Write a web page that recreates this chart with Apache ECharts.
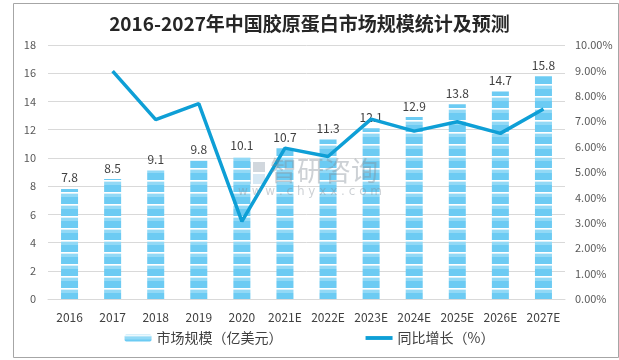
<!DOCTYPE html>
<html><head><meta charset="utf-8">
<script src="https://cdn.jsdelivr.net/npm/echarts@6/dist/echarts.min.js"></script>
<style>html,body{margin:0;padding:0;background:#fff}#c{width:619px;height:360px}</style>
</head><body><div id="c"></div>
<script>
const categories = ['2016','2017','2018','2019','2020','2021E','2022E','2023E','2024E','2025E','2026E','2027E'];
const marketSize = [7.8, 8.5, 9.1, 9.8, 10.1, 10.7, 11.3, 12.1, 12.9, 13.8, 14.7, 15.8];
const growth = [null, 8.97, 7.06, 7.69, 3.06, 5.94, 5.61, 7.08, 6.61, 6.98, 6.52, 7.48];
const leftTicks = {min: 0, max: 18, interval: 2};
const rightTicks = {min: 0, max: 10, interval: 1};

const pc = document.createElement('canvas');
pc.width = 4; pc.height = 12;
const g = pc.getContext('2d');
g.fillStyle = '#6ccbf3'; g.fillRect(0,0,4,12);
g.fillStyle = '#ffffff'; g.fillRect(0,0,4,1);
g.fillStyle = '#d8f1fb'; g.fillRect(0,1,4,1);
g.fillStyle = '#92d9f6'; g.fillRect(0,2,4,3);
const barFill = {image: pc, repeat: 'repeat'};

const font = '"Noto Sans CJK SC", "Liberation Sans", sans-serif';
const chart = echarts.init(document.getElementById('c'), null, {renderer: 'canvas'});
chart.setOption({
  backgroundColor: '#fff',
  animation: false,
  title: {
    text: '2016-2027年中国胶原蛋白市场规模统计及预测',
    left: 'center', top: 9,
    textStyle: {fontSize: 19, fontWeight: 'bold', color: '#262626', fontFamily: font}
  },
  grid: {left: 48, right: 54, top: 45, bottom: 61},
  legend: {
    bottom: 10, left: 'center', itemGap: 83, itemWidth: 27, itemHeight: 7,
    textStyle: {fontSize: 14, color: '#404040', fontFamily: font},
    data: [
      {name: '市场规模（亿美元）'},
      {name: '同比增长（%）', icon: 'path://M0,0H28V4H0Z', itemStyle: {color: '#0e9fd6'}}
    ]
  },
  xAxis: {
    type: 'category', data: categories,
    axisLine: {show: true, lineStyle: {color: '#d9d9d9'}},
    axisTick: {show: false},
    axisLabel: {color: '#404040', fontSize: 12, margin: 12, interval: 0, fontFamily: font}
  },
  yAxis: [{
    type: 'value', min: leftTicks.min, max: leftTicks.max, interval: leftTicks.interval,
    axisLine: {show: false}, axisTick: {show: false},
    axisLabel: {color: '#595959', fontSize: 11, margin: 12, fontFamily: font},
    splitLine: {lineStyle: {color: '#d9d9d9'}}
  }, {
    type: 'value', min: rightTicks.min, max: rightTicks.max, interval: rightTicks.interval,
    axisLine: {show: false}, axisTick: {show: false},
    axisLabel: {color: '#595959', fontSize: 11, margin: 10, fontFamily: font,
      formatter: v => v.toFixed(2) + '%'},
    splitLine: {show: false}
  }],
  series: [{
    name: '市场规模（亿美元）', type: 'bar', data: marketSize, barWidth: 17,
    itemStyle: {color: barFill},
    label: {show: true, position: 'top', distance: 5, color: '#404040', fontSize: 12, fontFamily: font}
  }, {
    name: '同比增长（%）', type: 'line', yAxisIndex: 1, data: growth,
    symbol: 'none', showSymbol: false, connectNulls: false,
    lineStyle: {color: '#0e9fd6', width: 3.5},
    itemStyle: {color: '#0e9fd6'}, z: 3
  }],
  graphic: [
    {type: 'rect', left: 11, top: 1, shape: {width: 605, height: 354}, style: {fill: 'none', stroke: '#a6a6a6', lineWidth: 1}, z: 10},
    {type: 'group', left: 240, top: 162, z: 20, silent: true, children: [
      {type: 'rect', shape: {x: 0, y: 0, width: 11, height: 22}, style: {fill: 'rgba(140,155,170,0.4)'}},
      {type: 'rect', shape: {x: 13, y: 0, width: 12, height: 10}, style: {fill: 'rgba(140,155,170,0.4)'}},
      {type: 'rect', shape: {x: 13, y: 12, width: 12, height: 10}, style: {fill: 'rgba(120,180,220,0.3)'}}
    ]},
    {type: 'text', left: 270, top: 157, z: 20, silent: true,
      style: {text: '智研咨询', font: '27px "Noto Sans CJK SC", sans-serif', fill: 'rgba(130,140,150,0.4)'}},
    {type: 'text', left: 238, top: 186, z: 20, silent: true,
      style: {text: 'w w w . c h y x x . c o m', font: '12px "DejaVu Sans", sans-serif', fill: 'rgba(130,140,150,0.4)'}}
  ]
});
</script></body></html>
